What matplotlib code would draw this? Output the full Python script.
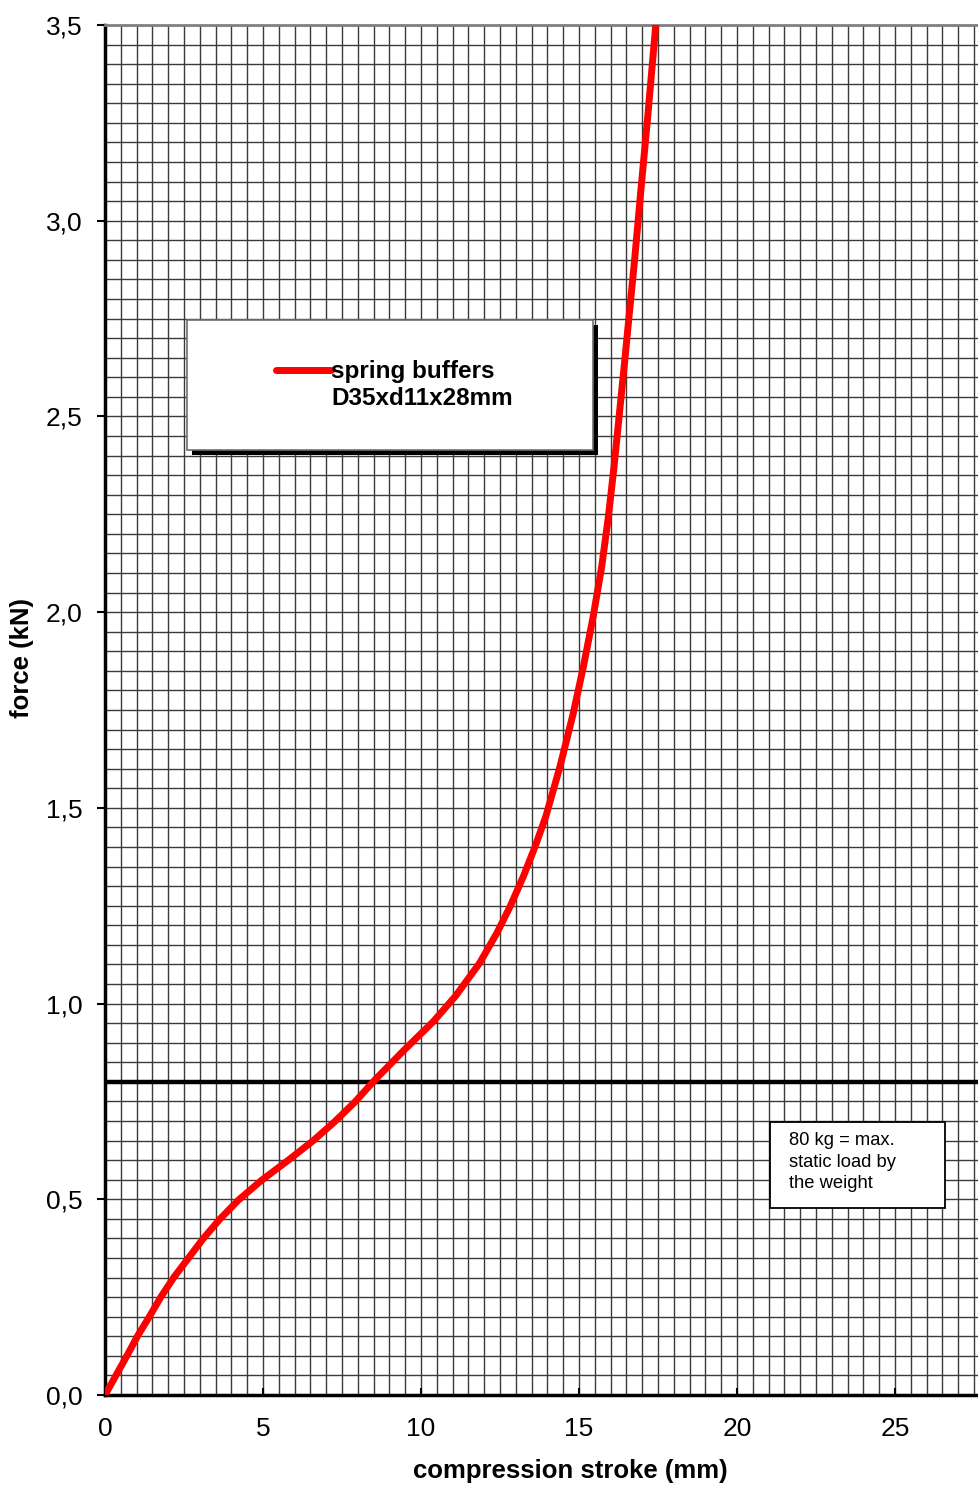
import matplotlib
matplotlib.use("Agg")
import matplotlib.pyplot as plt
from matplotlib.ticker import MultipleLocator, FuncFormatter
from matplotlib.patches import Rectangle
from matplotlib.lines import Line2D

plt.rcParams['font.family'] = ['Liberation Sans', 'DejaVu Sans']

# compression stroke (mm) vs force (kN)
stroke = [0, 0.35, 0.69, 1.03, 1.40, 1.77, 2.18, 2.64, 3.11, 3.64, 4.22, 4.96,
          5.80, 6.59, 7.25, 7.90, 8.54, 9.45, 10.40, 11.10, 11.85, 12.40, 12.82,
          13.24, 13.61, 13.95, 14.40, 14.82, 15.14, 15.45, 15.72, 15.93, 16.11,
          16.27, 16.43, 16.59, 16.76, 16.95, 17.18, 17.43]
force = [0, 0.051, 0.100, 0.151, 0.200, 0.251, 0.301, 0.350, 0.400, 0.450, 0.498, 0.549,
         0.600, 0.650, 0.697, 0.748, 0.805, 0.880, 0.955, 1.020, 1.103, 1.180, 1.248,
         1.325, 1.401, 1.478, 1.606, 1.742, 1.861, 1.989, 2.117, 2.244, 2.372,
         2.500, 2.628, 2.760, 2.900, 3.070, 3.270, 3.500]
static_load = 0.8

series_label = 'spring buffers'
series_label2 = 'D35xd11x28mm'
note_text = '80 kg = max.\nstatic load by\nthe weight'

fig = plt.figure(figsize=(9.79, 14.86), dpi=100)
ax = fig.add_axes([0.1073, 0.0612, 0.8927, 0.922])

ax.set_xlim(0, 27.66)
ax.set_ylim(0, 3.5)

ax.xaxis.set_major_locator(MultipleLocator(5))
ax.xaxis.set_minor_locator(MultipleLocator(0.5))
ax.yaxis.set_major_locator(MultipleLocator(0.5))
ax.yaxis.set_minor_locator(MultipleLocator(0.05))
ax.yaxis.set_major_formatter(FuncFormatter(lambda v, p: f'{v:.1f}'.replace('.', ',')))
ax.xaxis.set_major_formatter(FuncFormatter(lambda v, p: f'{v:.0f}'))

ax.grid(which='both', color='#3a3a3a', linewidth=1.0)
ax.set_axisbelow(True)

ax.tick_params(which='minor', length=0)
ax.tick_params(axis='x', which='major', direction='in', length=5, width=1.5,
               labelsize=19, pad=16)
ax.tick_params(axis='y', which='major', direction='out', length=6, width=1.5,
               labelsize=19, pad=10)

for side in ['left', 'bottom']:
    ax.spines[side].set_linewidth(2.5)
    ax.spines[side].set_color('black')
ax.spines['top'].set_linewidth(2)
ax.spines['top'].set_color('#808080')
ax.spines['right'].set_visible(False)

ax.axhline(static_load, color='black', linewidth=3.2, zorder=3)
line, = ax.plot(stroke, force, color='red', linewidth=5, zorder=4,
                solid_capstyle='round', solid_joinstyle='round')

ax.set_xlabel('compression stroke (mm)', fontsize=18.5, fontweight='bold', va='center')
ax.set_ylabel('force (kN)', fontsize=18.5, fontweight='bold', va='center')
ax.xaxis.set_label_coords(0.532, -0.0555)
ax.yaxis.set_label_coords(-0.095, 0.538)

# legend box with black drop shadow
ax.add_patch(Rectangle((0.0995, 0.6862), 0.4645, 0.0949, transform=ax.transAxes,
                       facecolor='black', edgecolor='none', zorder=5))
ax.add_patch(Rectangle((0.0938, 0.6898), 0.4645, 0.0949, transform=ax.transAxes,
                       facecolor='white', edgecolor='#707070', linewidth=1.2, zorder=6))
blank = Line2D([], [], linestyle='none')
leg = ax.legend([line, blank], [series_label, series_label2], loc='center',
                bbox_to_anchor=(0.331, 0.737), frameon=False,
                handlelength=2.3, handletextpad=0.0, labelspacing=0.15,
                borderpad=0, prop={'weight': 'bold', 'size': 17.5})
leg.set_zorder(7)

# note box
ax.add_patch(Rectangle((0.7609, 0.1365), 0.2002, 0.0628, transform=ax.transAxes,
                       facecolor='white', edgecolor='black', linewidth=1.3, zorder=5))
ax.text(0.7826, 0.1700, note_text, transform=ax.transAxes, fontsize=13.2,
        ha='left', va='center', linespacing=1.32, zorder=6)

fig.savefig('out.png', dpi=100)
